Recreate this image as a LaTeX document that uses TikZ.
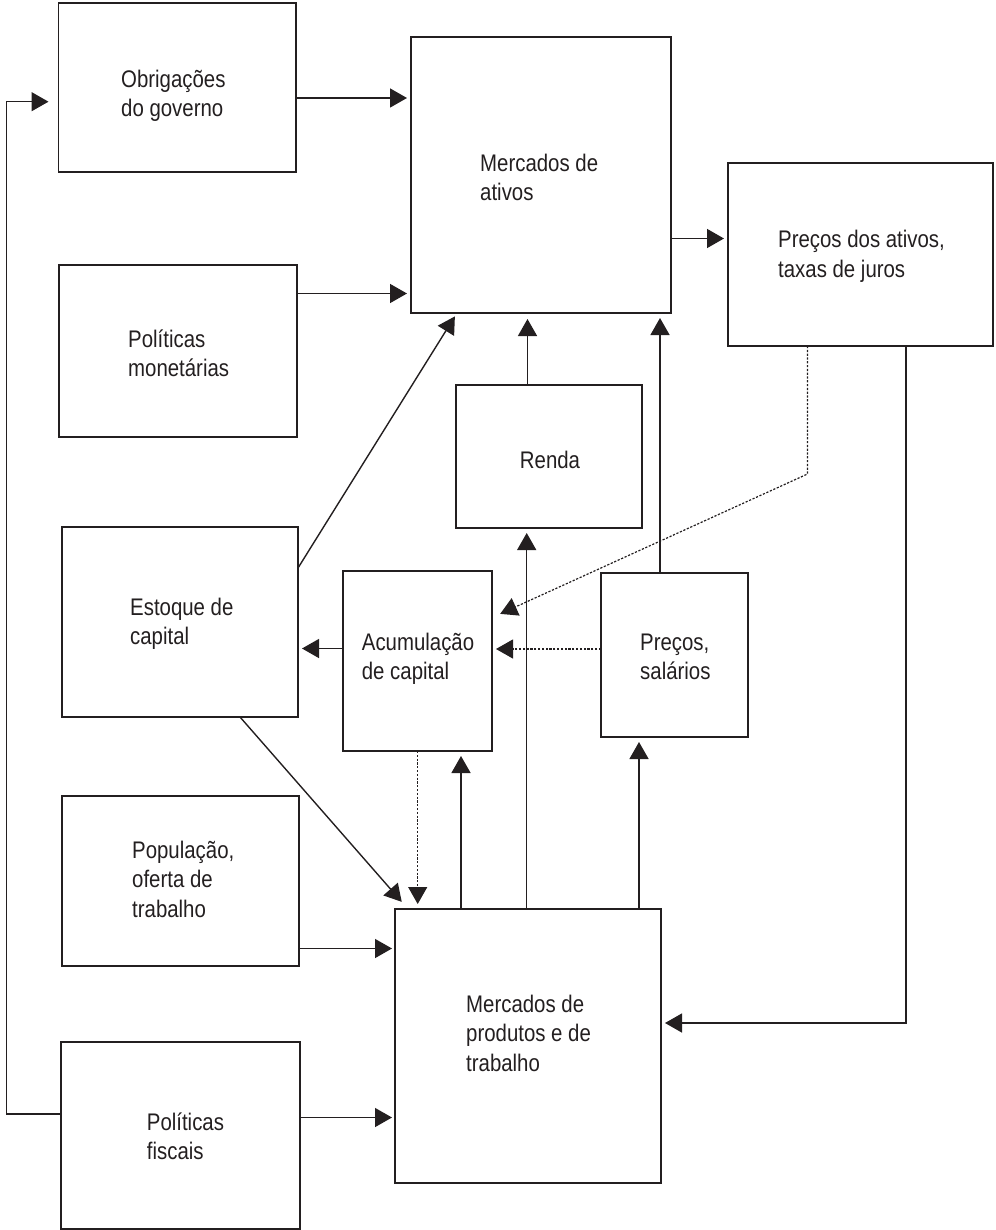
\documentclass[tikz,border=0pt]{standalone}
\usepackage{fontspec}
\setmainfont{Liberation Sans}[FakeStretch=0.85]
\usetikzlibrary{arrows.meta,calc}
\definecolor{ink}{RGB}{35,31,32}
\begin{document}
\begin{tikzpicture}[x=1pt,y=-1pt,
  box/.style={draw=ink, line width=1.5pt, inner sep=0pt, outer sep=0pt},
  txt/.style={anchor=base west, align=left, inner sep=0pt, text=ink, font=\fontsize{24}{29.5}\selectfont},
  arr/.style={draw=ink, line width=1.4pt, -{Triangle[length=17pt,width=19pt]}, shorten >=4pt},
  dotline/.style={line width=1.2pt, dash pattern=on 2.2pt off 1.6pt}]
\useasboundingbox (0,0) rectangle (995,1230);
% boxes
\node[box,minimum width=237.5pt,minimum height=169pt] (obrig) at (177.25,87.5) {};
\node[box,minimum width=260pt,minimum height=276pt] (mercA) at (541,175) {};
\node[box,minimum width=265pt,minimum height=183pt] (precA) at (860.5,254.5) {};
\node[box,minimum width=238pt,minimum height=172pt] (polM) at (178,351) {};
\node[box,minimum width=186pt,minimum height=143pt] (renda) at (549,456.5) {};
\node[box,minimum width=236pt,minimum height=190pt] (estoq) at (180,622) {};
\node[box,minimum width=149pt,minimum height=180pt] (acum) at (417.5,661) {};
\node[box,minimum width=147pt,minimum height=164pt] (precS) at (674.5,655) {};
\node[box,minimum width=237pt,minimum height=170pt] (popul) at (180.5,881) {};
\node[box,minimum width=266pt,minimum height=274pt] (mercP) at (528,1046) {};
\node[box,minimum width=239pt,minimum height=187pt] (polF) at (180.5,1135.5) {};
% texts (anchor = baseline of last line)
\node[txt] (obrig-t) at (121,117) {Obrigações\\do governo};
\node[txt] (mercA-t) at (480,201) {Mercados de\\ativos};
\node[txt] (precA-t) at (778,277.5) {Preços dos ativos,\\taxas de juros};
\node[txt] (polM-t) at (128,376.5) {Políticas\\monetárias};
\node[txt,anchor=base] (renda-t) at (550,468.5) {Renda};
\node[txt] (estoq-t) at (130,644.5) {Estoque de\\capital};
\node[txt] (acum-t) at (361.7,679.5) {Acumulação\\de capital};
\node[txt] (precS-t) at (640,679.5) {Preços,\\salários};
\node[txt] (popul-t) at (132,917) {População,\\oferta de\\trabalho};
\node[txt] (mercP-t) at (466,1071) {Mercados de\\produtos e de\\trabalho};
\node[txt] (polF-t) at (146.7,1159.5) {Políticas\\fiscais};
% connectors
\draw[arr] (obrig.east |- 0,98) -- (mercA.west |- 0,98);
\draw[arr] (polM.east |- 0,293.5) -- (mercA.west |- 0,293.5);
\draw[arr] (mercA.east |- 0,238.5) -- (precA.west |- 0,238.5);
\coordinate (lb) at (6.7,1114);
\coordinate (lt) at (6.7,101.7);
\draw[arr,shorten >=10pt] (polF.west |- lb) -- (lb) -- (lt) -- (obrig.west |- lt);
\draw[arr] (estoq.east |- 0,568) -- (mercA.south -| 457,0);
\draw[arr,shorten >=6pt] (renda.north -| 527.5,0) -- (mercA.south -| 527.5,0);
\draw[arr,shorten >=5pt] (precS.north -| 660,0) -- (mercA.south -| 660,0);
\coordinate (dk) at (807.5,474);
\draw[arr,dotline,shorten >=9pt] (precA.south -| dk) -- (dk) -- (acum.east |- 0,617.6);
\coordinate (rk) at (906,1023);
\draw[arr] (precA.south -| rk) -- (rk) -- (mercP.east |- rk);
\draw[arr] (acum.west |- 0,648.5) -- (estoq.east |- 0,648.5);
\draw[arr,dotline] (precS.west |- 0,649) -- (acum.east |- 0,649);
\draw[arr,shorten >=9.5pt] (estoq.south -| 240,0) -- (mercP.north -| 408,0);
\draw[arr,dotline,shorten >=5pt] (acum.south -| 417.7,0) -- (mercP.north -| 417.7,0);
\draw[arr,shorten >=5pt] (mercP.north -| 461,0) -- (acum.south -| 461,0);
\draw[arr,shorten >=5pt] (mercP.north -| 526.7,0) -- (renda.south -| 526.7,0);
\draw[arr,shorten >=5pt] (mercP.north -| 639,0) -- (precS.south -| 639,0);
\draw[arr,shorten >=3pt] (popul.east |- 0,948.5) -- (mercP.west |- 0,948.5);
\draw[arr,shorten >=3pt] (polF.east |- 0,1117.5) -- (mercP.west |- 0,1117.5);
\end{tikzpicture}
\end{document}
